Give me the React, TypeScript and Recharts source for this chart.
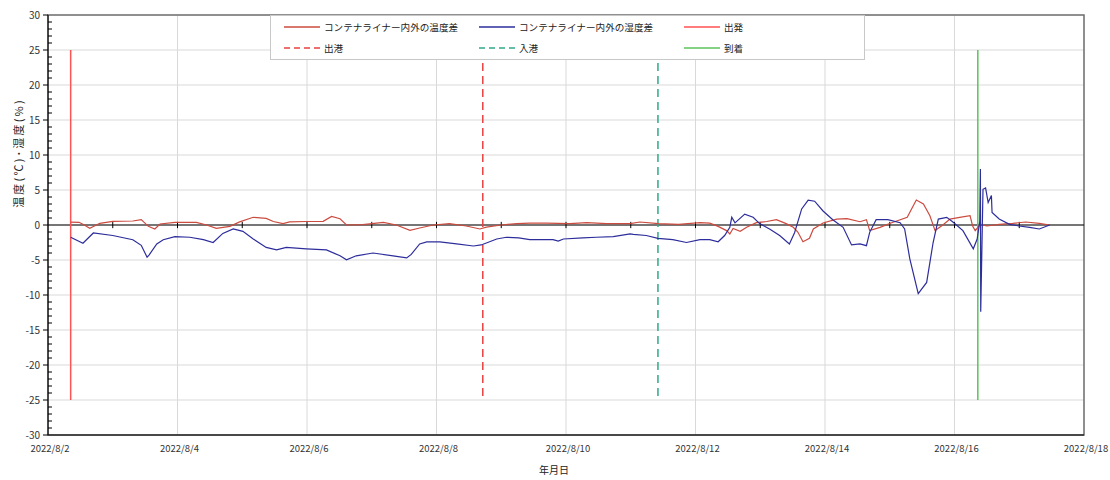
import {
  LineChart,
  Line,
  XAxis,
  YAxis,
  CartesianGrid,
  ReferenceLine,
  ReferenceArea,
} from "recharts";

// days since 2022/8/2 00:00
const TEMP_DAYS = [
  0.35, 0.48, 0.56, 0.645, 0.8, 1.0, 1.31, 1.44, 1.55, 1.65, 1.73, 1.96, 2.29, 2.45, 2.6, 2.81, 2.96, 3.17,
  3.37, 3.48, 3.63, 3.73, 3.99, 4.25, 4.38, 4.51, 4.61, 4.86, 5.18, 5.38, 5.59, 5.74, 5.95, 6.2, 6.46, 6.67,
  6.77, 7.0, 7.24, 7.44, 7.7, 8.06, 8.32, 8.63, 8.99, 9.14, 9.43, 9.74, 10.07, 10.22, 10.35, 10.48, 10.53,
  10.58, 10.69, 10.79, 10.94, 11.1, 11.25, 11.4, 11.51, 11.58, 11.66, 11.76, 11.82, 11.97, 12.18, 12.34,
  12.54, 12.64, 12.69, 12.85, 13.03, 13.27, 13.41, 13.52, 13.62, 13.7, 13.82, 13.93, 14.08, 14.24, 14.28,
  14.32, 14.4, 14.5, 14.69, 14.9, 15.1, 15.31, 15.47,
];
const TEMP_DIFF = [
  0.4, 0.38, 0.0, -0.47, 0.24, 0.52, 0.57, 0.76, -0.19, -0.57, 0.14, 0.38, 0.38, 0.0, -0.47, -0.2, 0.45, 1.1,
  0.95, 0.5, 0.2, 0.45, 0.5, 0.52, 1.23, 0.9, 0.0, 0.05, 0.38, 0.0, -0.76, -0.43, 0.0, 0.2, -0.14, -0.57,
  -0.3, 0.0, 0.2, 0.28, 0.28, 0.2, 0.35, 0.2, 0.2, 0.43, 0.2, 0.1, 0.33, 0.26, -0.2, -0.8, -1.28,
  -0.5, -0.9, -0.33, 0.33, 0.5, 0.76, 0.2, -0.33, -1.0, -2.4, -1.9, -0.57, 0.28, 0.85, 0.9,
  0.47, 0.76, -0.8, -0.33, 0.33, 1.1, 3.56, 3.0, 1.33, -0.8, 0.0, 0.85, 1.1, 1.33, -0.14,
  -0.8, 0.1, -0.14, 0.1, 0.24, 0.43, 0.24, 0.0,
];

const HUM_DAYS = [
  0.35, 0.54, 0.7, 1.0, 1.31, 1.44, 1.53, 1.56, 1.68, 1.78, 1.96, 2.19, 2.4, 2.55, 2.7, 2.86, 3.01, 3.17,
  3.37, 3.53, 3.68, 3.99, 4.3, 4.51, 4.61, 4.76, 5.02, 5.33, 5.54, 5.61, 5.74, 5.85, 6.05, 6.31, 6.57, 6.69,
  6.93, 7.08, 7.27, 7.44, 7.8, 7.88, 7.96, 8.26, 8.47, 8.73, 8.99, 9.04, 9.24, 9.42, 9.65, 9.86, 10.07,
  10.22, 10.35, 10.45, 10.53, 10.56, 10.61, 10.76, 10.89, 10.99, 11.15, 11.3, 11.45, 11.53, 11.64, 11.74,
  11.84, 11.97, 12.12, 12.28, 12.41, 12.54, 12.64, 12.69, 12.79, 12.97, 13.16, 13.23, 13.31, 13.44, 13.57,
  13.67, 13.75, 13.88, 13.98, 14.13, 14.29, 14.35, 14.39, 14.4, 14.405, 14.44, 14.48, 14.52, 14.57, 14.58,
  14.69, 14.85, 15.0, 15.16, 15.31, 15.47,
];
const HUM_DIFF = [
  -1.75, -2.6, -1.14, -1.5, -2.1, -2.9, -4.6, -4.3, -2.7, -2.1, -1.66, -1.75, -2.1, -2.5, -1.2, -0.57, -0.9, -2.0,
  -3.2, -3.55, -3.2, -3.4, -3.55, -4.4, -4.98, -4.4, -4.0, -4.4, -4.7, -4.2, -2.7, -2.4, -2.4, -2.7, -3.0, -2.85,
  -2.0, -1.75, -1.85, -2.1, -2.1, -2.3, -2.0, -1.85, -1.75, -1.66, -1.28, -1.35, -1.5, -1.9, -2.1, -2.5, -2.1,
  -2.1, -2.4, -1.5, -0.33, 1.1, 0.3, 1.56, 1.1, 0.2, -0.6, -1.5, -2.7, -1.1, 2.3, 3.56,
  3.4, 2.0, 0.76, -0.33, -2.85, -2.7, -2.95, -1.05, 0.76, 0.76, 0.33, -0.57, -4.84, -9.8, -8.2,
  -2.5, 0.85, 1.1, 0.38, -0.8, -3.4, -2.0, 0.5, 8.0, -12.4, 5.1, 5.3, 3.2, 4.2, 1.8,
  0.85, 0.1, -0.14, -0.33, -0.57, 0.0,
];

const EVENT_NAMES = ["出発", "出港", "入港", "到着"];
const EVENT_DAYS = [0.35, 6.715, 9.42, 14.36];
const EVENT_SPAN = [25, -25];

const SERIES_NAMES = ["コンテナライナー内外の温度差", "コンテナライナー内外の湿度差"];

const X_TICKS = [0, 2, 4, 6, 8, 10, 12, 14, 16];
const X_LABELS = ["2022/8/2", "2022/8/4", "2022/8/6", "2022/8/8", "2022/8/10", "2022/8/12", "2022/8/14", "2022/8/16", "2022/8/18"];
const DAY_MARKS = [1, 2, 3, 4, 5, 6, 7, 8, 9, 10, 11, 12, 13, 14, 15];
const Y_MAJOR = [-30, -25, -20, -15, -10, -5, 0, 5, 10, 15, 20, 25, 30];
const Y_ALL = Array.from({ length: 61 }, (_, i) => i - 30);

const FONT = "'Noto Sans CJK JP', 'Noto Sans', sans-serif";

const tempData = TEMP_DAYS.map((d, i) => ({ d, v: TEMP_DIFF[i] }));
const humData = HUM_DAYS.map((d, i) => ({ d, v: HUM_DIFF[i] }));
const eventData = EVENT_DAYS.map((d) => EVENT_SPAN.map((v) => ({ d, v })));

const SERIES_STYLE = [
  { color: "#cc4b3f", dash: undefined, width: 1.2 },
  { color: "#2d2d9c", dash: undefined, width: 1.2 },
];
const EVENT_STYLE = [
  { color: "#ff5252", dash: undefined },
  { color: "#e8413f", dash: "8 5" },
  { color: "#2fa98a", dash: "8 5" },
  { color: "#5cc35c", dash: undefined },
];

// eslint-disable-next-line @typescript-eslint/no-explicit-any
function YTick({ x, y, payload }: any) {
  const v = payload.value as number;
  const major = v % 5 === 0;
  return (
    <g>
      {major ? (
        <line x1={x - 5} x2={x} y1={y} y2={y} stroke="#000" strokeWidth={1} />
      ) : (
        <line x1={x} x2={x + 4} y1={y} y2={y} stroke="#000" strokeWidth={1} />
      )}
      {major && (
        <text x={x - 8} y={y} dy={3.5} textAnchor="end" fontSize={10} fill="#333" fontFamily={FONT}>
          {v}
        </text>
      )}
    </g>
  );
}

// eslint-disable-next-line @typescript-eslint/no-explicit-any
function XTick({ x, y, payload }: any) {
  const idx = X_TICKS.indexOf(payload.value);
  return (
    <text x={x + 2} y={y} dy={9} textAnchor="middle" fontSize={9.5} fill="#333" fontFamily={FONT}>
      {X_LABELS[idx]}
    </text>
  );
}

function LegendBox() {
  const items = [
    ...SERIES_NAMES.map((n, i) => ({ name: n, ...SERIES_STYLE[i] })),
    ...EVENT_NAMES.map((n, i) => ({ name: n, ...EVENT_STYLE[i] })),
  ];
  const cols = [13, 208, 413];
  return (
    <div
      style={{
        position: "absolute",
        left: 270,
        top: 15,
        width: 595,
        height: 45,
        background: "#fff",
        border: "1px solid #c8c8c8",
        boxSizing: "border-box",
        fontFamily: FONT,
        fontSize: 9.6,
        color: "#222",
      }}
    >
      {items.map((it, i) => (
        <div
          key={it.name + i}
          style={{
            position: "absolute",
            left: cols[i % 3],
            top: i < 3 ? 4 : 25,
            display: "flex",
            alignItems: "center",
            whiteSpace: "nowrap",
            height: 14,
          }}
        >
          <svg width={36} height={4} style={{ marginRight: 4 }}>
            <line x1={0} x2={36} y1={2} y2={2} stroke={it.color} strokeWidth={1.5} strokeDasharray={it.dash ? "6 4" : undefined} />
          </svg>
          <span>{it.name}</span>
        </div>
      ))}
    </div>
  );
}

export default function App() {
  return (
    <div style={{ position: "absolute", left: 0, top: 0, width: 1110, height: 480, background: "#fff" }}>
      <LineChart width={1110} height={480} margin={{ top: 15, right: 26, bottom: 0, left: 0 }}>
        <CartesianGrid stroke="#d9d9d9" horizontalValues={Y_MAJOR} verticalValues={X_TICKS} />
        <ReferenceArea x1={0} x2={16} y1={-30} y2={30} fill="none" stroke="#707070" strokeWidth={1.5} ifOverflow="visible" />
        <XAxis
          type="number"
          dataKey="d"
          domain={[0, 16]}
          ticks={X_TICKS}
          interval={0}
          allowDataOverflow
          height={45}
          tickSize={0}
          tickMargin={8}
          tick={<XTick />}
          axisLine={{ stroke: "#000" }}
          label={{
            content: ({ viewBox }: any) => (
              <text x={viewBox.x + viewBox.width / 2 - 12} y={474} textAnchor="middle" fontSize={10} fill="#222" fontFamily={FONT}>
                年月日
              </text>
            ),
          }}
        />
        <YAxis
          type="number"
          domain={[-30, 30]}
          ticks={Y_ALL}
          interval={0}
          width={48}
          tickSize={0}
          tickMargin={0}
          tickLine={false}
          tick={<YTick />}
          axisLine={{ stroke: "#000" }}
          label={{
            content: () => (
              <text
                x={19}
                y={153}
                transform="rotate(-90 19 153)"
                textAnchor="middle"
                dy={4}
                fontSize={11}
                letterSpacing={2.2}
                fill="#222"
                fontFamily={FONT}
              >
                温度(℃)･湿度(%)
              </text>
            ),
          }}
        />
        <ReferenceLine y={0} stroke="#000" strokeWidth={1.2} />
        {DAY_MARKS.map((d) => (
          <ReferenceLine
            key={d}
            segment={[
              { x: d, y: -0.45 },
              { x: d, y: 0.45 },
            ]}
            stroke="#000"
          />
        ))}
        {eventData.map((data, i) => (
          <Line
            key={EVENT_NAMES[i]}
            data={data}
            dataKey="v"
            name={EVENT_NAMES[i]}
            stroke={EVENT_STYLE[i].color}
            strokeDasharray={EVENT_STYLE[i].dash}
            strokeWidth={1.5}
            dot={false}
            isAnimationActive={false}
          />
        ))}
        <Line
          data={tempData}
          dataKey="v"
          name={SERIES_NAMES[0]}
          stroke={SERIES_STYLE[0].color}
          strokeWidth={SERIES_STYLE[0].width}
          dot={false}
          isAnimationActive={false}
        />
        <Line
          data={humData}
          dataKey="v"
          name={SERIES_NAMES[1]}
          stroke={SERIES_STYLE[1].color}
          strokeWidth={SERIES_STYLE[1].width}
          dot={false}
          isAnimationActive={false}
        />
      </LineChart>
      <LegendBox />
    </div>
  );
}
